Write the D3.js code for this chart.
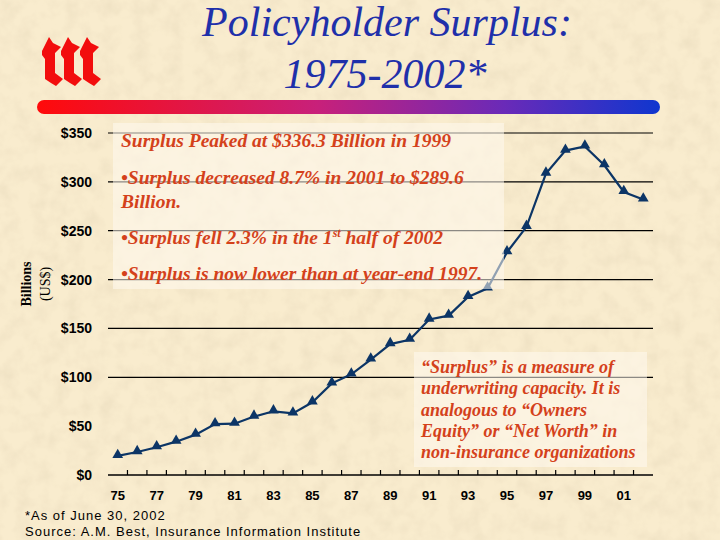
<!DOCTYPE html>
<html>
<head>
<meta charset="utf-8">
<script src="https://cdn.jsdelivr.net/npm/d3@7"></script>
<style>
  body { margin: 0; background: #f9ecce; }
  svg { display: block; }
</style>
</head>
<body>
<div id="chart"></div>
<script>
    // data: surplus in billions, 1975 - 2002 (2002 = as of June 30)
    var years = ["75", "76", "77", "78", "79", "80", "81", "82", "83", "84", "85", "86", "87", "88",
      "89", "90", "91", "92", "93", "94", "95", "96", "97", "98", "99", "00", "01", "02"];
    var surplus = [19.6, 23.5, 28.4, 34.1, 41.3, 52.1, 52.5, 59.8, 65.2, 63.1, 74.4, 93.8, 103.0, 118.2,
      134.0, 138.4, 159.1, 163.1, 182.3, 191.0, 228.0, 254.0, 308.5, 332.0, 336.3, 317.0, 289.6, 282.0];
    var xLabels = ["75", "77", "79", "81", "83", "85", "87", "89", "91", "93", "95", "97", "99", "01"];
    var yTicks = [0, 50, 100, 150, 200, 250, 300, 350];
    var gridTicks = [100, 150, 200, 250, 300, 350];

    var noteLines = [
      { text: "Surplus Peaked at $336.3 Billion in 1999" },
      { text: "\u2022Surplus decreased 8.7% in 2001 to $289.6" },
      { text: "Billion." },
      { text: "\u2022Surplus fell 2.3% in the 1", sup: "st", rest: " half of 2002" },
      { text: "\u2022Surplus is now lower than at year-end 1997." }
    ];
    var defLines = [
      "\u201cSurplus\u201d is a measure of",
      "underwriting capacity.  It is",
      "analogous to \u201cOwners",
      "Equity\u201d or \u201cNet Worth\u201d in",
      "non-insurance organizations"
    ];

    var W = 720, H = 540;
    var plotLeft = 108, plotRight = 653, plotTop = 133, plotBottom = 475;

    var svg = d3.select("#chart")
      .append("svg")
      .attr("width", W)
      .attr("height", H);

    var defs = svg.append("defs");
    var grad = defs.append("linearGradient").attr("id", "bar");
    grad.append("stop").attr("offset", "0%").attr("stop-color", "#ff0a0a");
    grad.append("stop").attr("offset", "45%").attr("stop-color", "#c8207a");
    grad.append("stop").attr("offset", "75%").attr("stop-color", "#6a2ab8");
    grad.append("stop").attr("offset", "100%").attr("stop-color", "#0f36cf");

    // paper texture
    var f = defs.append("filter").attr("id", "paper").attr("x", 0).attr("y", 0).attr("width", 1).attr("height", 1);
    f.append("feTurbulence").attr("type", "fractalNoise").attr("baseFrequency", 0.06).attr("numOctaves", 3).attr("seed", 4);
    f.append("feColorMatrix").attr("type", "matrix")
      .attr("values", "0 0 0 0 0.55  0 0 0 0 0.45  0 0 0 0 0.3  0 0 0 -0.9 0.55");
    f.append("feComposite").attr("in2", "SourceGraphic").attr("operator", "in");

    svg.append("rect").attr("width", W).attr("height", H).attr("fill", "#f9ecce");
    svg.append("rect").attr("width", W).attr("height", H).attr("fill", "#f9ecce")
      .attr("filter", "url(#paper)").attr("opacity", 0.35);

    // logo
    var glyph = "M2,16 L9,2 L13,8 L21,12 L15,18 L15,38 L23,44 L16,51 L11,48 L5,44 L5,24 L2,20 Z";
    [40, 59, 78].forEach(function (gx) {
      svg.append("path").attr("d", glyph)
        .attr("transform", "translate(" + gx + ",35)")
        .attr("fill", "#f20d0d");
    });

    // title
    var title = svg.append("text")
      .attr("text-anchor", "middle")
      .attr("font-family", "Liberation Serif, Times New Roman, serif")
      .attr("font-style", "italic")
      .attr("font-size", 42)
      .attr("fill", "#1f30aa");
    title.append("tspan").attr("x", 387).attr("y", 36).text("Policyholder Surplus:");
    title.append("tspan").attr("x", 385).attr("y", 88).text("1975-2002*");

    svg.append("rect")
      .attr("x", 37).attr("y", 100).attr("width", 623).attr("height", 14).attr("rx", 7)
      .attr("fill", "url(#bar)");

    // scales
    var x = d3.scaleBand().domain(years).range([plotLeft, plotRight]);
    var y = d3.scaleLinear().domain([0, 350]).range([plotBottom, plotTop]);
    var cx = function (d) { return x(d) + x.bandwidth() / 2; };

    // grid lines
    svg.append("g").selectAll("line")
      .data(gridTicks).enter().append("line")
      .attr("x1", plotLeft).attr("x2", plotRight)
      .attr("y1", function (d) { return y(d); })
      .attr("y2", function (d) { return y(d); })
      .attr("stroke", "#000").attr("stroke-width", 1.2);

    // y axis labels
    var yAxis = svg.append("g")
      .attr("transform", "translate(" + plotLeft + ",0)")
      .call(d3.axisLeft(y).tickValues(yTicks).tickSize(0).tickPadding(16)
        .tickFormat(function (d) { return "$" + d; }));
    yAxis.select(".domain").remove();
    yAxis.selectAll("text")
      .attr("font-family", "Liberation Sans, Arial, sans-serif")
      .attr("font-weight", "bold")
      .attr("font-size", 14)
      .attr("fill", "#000");

    // x axis
    var xAxis = svg.append("g")
      .attr("transform", "translate(0," + plotBottom + ")")
      .call(d3.axisBottom(x).tickValues(xLabels).tickSize(0).tickPadding(16));
    xAxis.select(".domain").remove();
    xAxis.selectAll("text")
      .attr("font-family", "Liberation Sans, Arial, sans-serif")
      .attr("font-weight", "bold")
      .attr("font-size", 13)
      .attr("fill", "#000");
    svg.append("line")
      .attr("x1", plotLeft).attr("x2", plotRight).attr("y1", plotBottom).attr("y2", plotBottom)
      .attr("stroke", "#000").attr("stroke-width", 1.5);
    svg.append("g").selectAll("line")
      .data(years.slice(1)).enter().append("line")
      .attr("x1", function (d) { return x(d); })
      .attr("x2", function (d) { return x(d); })
      .attr("y1", plotBottom - 5).attr("y2", plotBottom)
      .attr("stroke", "#000").attr("stroke-width", 1.2);

    // y axis title
    var yt = svg.append("text")
      .attr("transform", "translate(0,284) rotate(-90)")
      .attr("text-anchor", "middle")
      .attr("font-family", "Liberation Serif, Times New Roman, serif")
      .attr("font-size", 14)
      .attr("fill", "#000");
    yt.append("tspan").attr("x", 0).attr("y", 31).attr("font-weight", "bold").text("Billions");
    yt.append("tspan").attr("x", 0).attr("y", 50).text("(US$)");

    // line + markers
    var line = d3.line()
      .x(function (d, i) { return cx(years[i]); })
      .y(function (d) { return y(d); });
    svg.append("path")
      .datum(surplus)
      .attr("d", line)
      .attr("fill", "none")
      .attr("stroke", "#0c3566")
      .attr("stroke-width", 2.2);
    svg.append("g").selectAll("path")
      .data(surplus).enter().append("path")
      .attr("d", d3.symbol().type(d3.symbolTriangle).size(50))
      .attr("transform", function (d, i) { return "translate(" + cx(years[i]) + "," + (y(d) - 1) + ")"; })
      .attr("fill", "#0c3566");

    // note boxes
    var txtColor = "#d4411b";
    svg.append("rect")
      .attr("x", 113).attr("y", 123).attr("width", 391).attr("height", 166)
      .attr("fill", "#fffaf0").attr("opacity", 0.55);
    var noteY = [147, 184, 208, 244, 280];
    var notes = svg.append("g")
      .attr("font-family", "Liberation Serif, Times New Roman, serif")
      .attr("font-style", "italic")
      .attr("font-weight", "bold")
      .attr("font-size", 19.5)
      .attr("fill", txtColor);
    noteLines.forEach(function (n, i) {
      var t = notes.append("text").attr("x", 121).attr("y", noteY[i]);
      t.append("tspan").text(n.text);
      if (n.sup) {
        t.append("tspan").attr("font-size", 12).attr("dy", -7).text(n.sup);
        t.append("tspan").attr("dy", 7).text(n.rest);
      }
    });

    svg.append("rect")
      .attr("x", 414).attr("y", 352).attr("width", 233).attr("height", 115)
      .attr("fill", "#fffaf0").attr("opacity", 0.55);
    var defs2 = svg.append("g")
      .attr("font-family", "Liberation Serif, Times New Roman, serif")
      .attr("font-style", "italic")
      .attr("font-weight", "bold")
      .attr("font-size", 18)
      .attr("fill", txtColor);
    defLines.forEach(function (s, i) {
      defs2.append("text").attr("x", 421).attr("y", 373 + i * 21.3).text(s);
    });

    // footnote
    var foot = svg.append("g")
      .attr("font-family", "Liberation Sans, Arial, sans-serif")
      .attr("font-size", 13)
      .attr("letter-spacing", 1)
      .attr("fill", "#000");
    foot.append("text").attr("x", 25).attr("y", 520).text("*As of June 30, 2002");
    foot.append("text").attr("x", 25).attr("y", 536).text("Source:  A.M. Best, Insurance Information Institute");
</script>
</body>
</html>
